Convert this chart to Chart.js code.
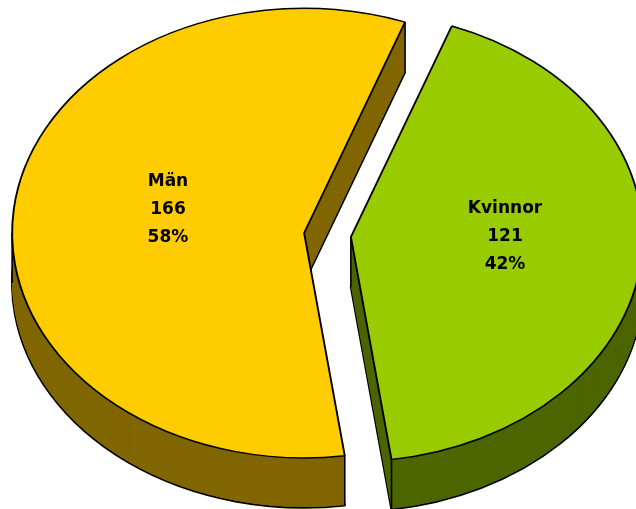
<!DOCTYPE html>
<html>
<head>
<meta charset="utf-8">
<script src="https://cdn.jsdelivr.net/npm/chart.js@4.4.1/dist/chart.umd.min.js"></script>
<style>
  html, body { margin: 0; padding: 0; background: #fff; overflow: hidden; width: 636px; height: 509px; }
  #pie { position: absolute; left: 0; top: -65px; }
</style>
</head>
<body>
<canvas id="pie" width="655" height="600"></canvas>
<script>
var categories = ["Män", "Kvinnor"];
var counts = [166, 121];

var topColors = ["#FFCC00", "#99CC00"];
var wallColors = ["#806600", "#4D6600"];

// 3d look
var TILT = 0.77;     // vertical squash of the pie
var DEPTH = 50;      // wall height in px
var EXPLODE = 23.5;  // how far slices are pulled out
var LABEL_DX = 9;
var LABEL_DY = -12;
var LINE_H = 28;

var sum = counts.reduce((a, b) => a + b, 0);

function inSlice(a, s, e) {
  while (a < s) a += Math.PI * 2;
  return a <= e;
}

var pie3d = {
  id: "pie3d",
  beforeDatasetsDraw(chart) {
    var ctx = chart.ctx;
    var arcs = chart.getDatasetMeta(0).data;
    var cy = arcs[0].y;

    function place(el, d) {
      var mid = (el.startAngle + el.endAngle) / 2;
      ctx.translate(0, d + cy);
      ctx.scale(1, TILT);
      ctx.translate(Math.cos(mid) * EXPLODE, -cy + Math.sin(mid) * EXPLODE);
    }

    function drawWith(el, opts) {
      var orig = el.options;
      el.options = Object.assign({}, orig, opts);
      el.draw(ctx);
      el.options = orig;
    }

    // side walls: stack darker copies downwards
    arcs.forEach((el, i) => {
      for (var d = DEPTH; d >= 1; d--) {
        ctx.save();
        place(el, d);
        drawWith(el, {
          backgroundColor: wallColors[i],
          borderColor: "#000",
          borderWidth: d == DEPTH ? 2.2 : 0
        });
        ctx.restore();
      }
    });

    // vertical edges of the walls
    arcs.forEach(el => {
      var r = el.outerRadius;
      var pts = [[el.x, el.y]];
      [el.startAngle, el.endAngle].forEach(a => {
        pts.push([el.x + Math.cos(a) * r, el.y + Math.sin(a) * r]);
      });
      if (inSlice(Math.PI, el.startAngle, el.endAngle)) pts.push([el.x - r, el.y]);
      if (inSlice(0, el.startAngle, el.endAngle)) pts.push([el.x + r, el.y]);

      ctx.save();
      place(el, 0);
      ctx.beginPath();
      pts.forEach(p => {
        ctx.moveTo(p[0], p[1]);
        ctx.lineTo(p[0], p[1] + DEPTH / TILT);
      });
      ctx.restore();
      ctx.lineWidth = 1.6;
      ctx.strokeStyle = "#000";
      ctx.stroke();
    });

    // top faces
    arcs.forEach(el => {
      ctx.save();
      place(el, 0);
      el.draw(ctx);
      ctx.restore();
    });

    // labels
    ctx.save();
    ctx.font = "bold 17px 'DejaVu Sans'";
    ctx.fillStyle = "#000";
    ctx.textAlign = "center";
    ctx.textBaseline = "middle";
    arcs.forEach((el, i) => {
      var mid = (el.startAngle + el.endAngle) / 2;
      var dist = EXPLODE + el.outerRadius * 0.5;
      var lx = el.x + Math.cos(mid) * dist + LABEL_DX;
      var ly = cy + Math.sin(mid) * dist * TILT + LABEL_DY;
      var lines = [categories[i], String(counts[i]), Math.round(counts[i] / sum * 100) + "%"];
      lines.forEach((t, j) => {
        ctx.fillText(t, lx, ly + (j - 1) * LINE_H);
      });
    });
    ctx.restore();

    return false;
  }
};

new Chart("pie", {
  type: "pie",
  data: {
    labels: categories,
    datasets: [{
      data: counts,
      backgroundColor: topColors,
      borderColor: "#000",
      borderWidth: 1.9
    }]
  },
  options: {
    responsive: false,
    animation: false,
    radius: 292,
    rotation: 172,
    plugins: {
      legend: { display: false },
      tooltip: { enabled: false }
    }
  },
  plugins: [pie3d]
});
</script>
</body>
</html>
